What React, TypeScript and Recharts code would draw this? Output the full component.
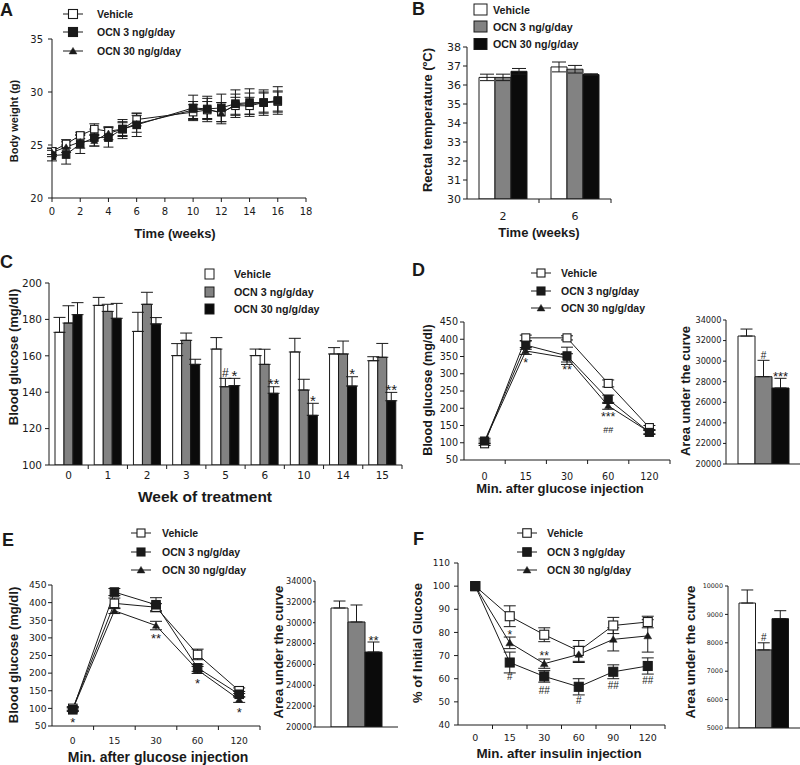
import React from 'react';
import { LineChart, Line, BarChart, Bar, XAxis, YAxis, ErrorBar, LabelList } from 'recharts';

const INK = '#1a1a1a';
const TICK_FONT = '"DejaVu Sans", Verdana, sans-serif';
const BOLD_FONT = '"Liberation Sans", Arial, Helvetica, sans-serif';

const groupNames = ['Vehicle', 'OCN 3 ng/g/day', 'OCN 30 ng/g/day'];
const barFills = ['#ffffff', '#828282', '#0b0b0b'];

// A: body weight
const bwWeeks = [0, 1, 2, 3, 4, 5, 6, 10, 11, 12, 13, 14, 15, 16];
const bwVehicle = [24.4, 25.1, 25.9, 26.5, 26.3, 26.5, 27.4, 28.1, 28.3, 28.1, 28.7, 28.7, 29.0, 29.1];
const bwVehicleErr = [0.3, 0.4, 0.3, 0.5, 0.4, 0.6, 0.6, 0.7, 0.8, 0.9, 0.8, 0.8, 0.9, 0.9];
const bwOcn3 = [24.0, 24.1, 25.1, 25.7, 25.7, 26.5, 26.9, 28.5, 28.4, 28.5, 28.9, 29.0, 29.0, 29.2];
const bwOcn3Err = [0.5, 0.9, 0.9, 0.8, 0.9, 0.9, 1.1, 1.2, 1.2, 1.3, 1.3, 1.3, 1.2, 1.3];
const bwOcn30 = [24.3, 24.8, 25.3, 25.4, 26.1, 26.5, 27.0, 28.3, 28.4, 28.0, 28.8, 28.9, 29.0, 29.1];
const bwOcn30Err = [0.4, 0.5, 0.6, 0.5, 0.6, 0.7, 0.8, 0.8, 1.0, 1.0, 1.0, 1.0, 1.0, 1.0];

// B: rectal temperature
const tempWeeks = ['2', '6'];
const tempVehicle = [36.4, 36.95];
const tempVehicleErr = [0.17, 0.26];
const tempOcn3 = [36.4, 36.83];
const tempOcn3Err = [0.17, 0.2];
const tempOcn30 = [36.72, 36.55];
const tempOcn30Err = [0.15, 0.04];

// C: fasting blood glucose by week
const bgWeeks = ['0', '1', '2', '3', '5', '6', '10', '14', '15'];
const bgVehicle = [172.9, 187.7, 173.4, 160.1, 163.7, 160.1, 162.1, 161.0, 157.3];
const bgVehicleErr = [8.2, 4.4, 10.5, 6.6, 6.3, 3.6, 7.5, 3.5, 2.2];
const bgOcn3 = [178.0, 184.4, 188.3, 168.5, 143.0, 155.3, 141.2, 161.0, 159.2];
const bgOcn3Err = [9.5, 3.9, 6.6, 4.0, 4.6, 8.3, 5.9, 7.1, 7.6];
const bgOcn30 = [182.6, 180.6, 177.5, 155.3, 143.6, 139.4, 127.3, 143.4, 135.3];
const bgOcn30Err = [6.6, 8.2, 3.5, 2.8, 4.0, 3.6, 6.6, 5.1, 4.6];
const bgNote3 = ['', '', '', '', '#', '', '', '', ''];
const bgNote30 = ['', '', '', '', '*', '**', '*', '*', '**'];

// D: glucose tolerance test
const gttMinutes = ['0', '15', '30', '60', '120'];
const gttVehicle = [97, 404, 404, 272, 144];
const gttVehicleErr = [5, 8, 6, 10, 6];
const gttOcn3 = [105, 383, 352, 226, 130];
const gttOcn3Err = [8, 12, 25, 12, 6];
const gttOcn30 = [103, 366, 346, 207, 131];
const gttOcn30Err = [5, 10, 12, 10, 5];
const gttNotes = ['', '*', '**', '***\n##', ''];
const gttAuc = [32440, 28490, 27390];
const gttAucErr = [680, 1590, 940];
const gttAucNotes = ['', '#', '***'];

// E: glucose tolerance test, second cohort
const gtt2Minutes = ['0', '15', '30', '60', '120'];
const gtt2Vehicle = [100, 398, 387, 253, 150];
const gtt2VehicleErr = [5, 15, 10, 15, 8];
const gtt2Ocn3 = [96, 430, 394, 215, 140];
const gtt2Ocn3Err = [5, 10, 20, 10, 8];
const gtt2Ocn30 = [98, 377, 335, 209, 125];
const gtt2Ocn30Err = [5, 8, 12, 10, 8];
const gtt2Stars = ['*', '', '**', '*', '*'];
const gtt2Auc = [31410, 30070, 27190];
const gtt2AucErr = [670, 1630, 960];
const gtt2AucNotes = ['', '', '**'];

// F: insulin tolerance test
const ittMinutes = ['0', '15', '30', '60', '90', '120'];
const ittVehicle = [100, 87, 79, 72, 83, 84.5];
const ittVehicleErr = [0, 4.5, 3, 4.5, 3.5, 2.5];
const ittOcn3 = [100, 67, 61, 56.5, 63, 65.5];
const ittOcn3Err = [0, 4.5, 2.5, 3.5, 3, 3.5];
const ittOcn30 = [100, 75.5, 66.5, 70.5, 77, 78.5];
const ittOcn30Err = [0, 2.5, 2, 3.5, 5, 7];
const ittStars = ['', '*', '**', '', '', ''];
const ittHashes = ['', '#', '##', '#', '##', '##'];
const ittAuc = [9400, 7750, 8850];
const ittAucErr = [460, 250, 280];
const ittAucNotes = ['', '#', ''];

type Row = Record<string, any>;

function seriesRows(
  xs: (string | number)[],
  v: number[], ve: any[], o3: number[], o3e: any[], o30: number[], o30e: any[],
  extra: Record<string, string[]> = {},
): Row[] {
  return xs.map((x, i) => {
    const r: Row = { x, v: v[i], ve: ve[i], o3: o3[i], o3e: o3e[i], o30: o30[i], o30e: o30e[i] };
    Object.keys(extra).forEach((k) => { r[k] = extra[k][i]; });
    return r;
  });
}

const upOnly = (e: number[]) => e.map((d) => [0, d]);

function aucRows(vals: number[], errs: number[], notes: string[]): Row[] {
  return [{
    x: 'AUC',
    v: vals[0], ve: [0, errs[0]], vn: notes[0],
    o3: vals[1], o3e: [0, errs[1]], o3n: notes[1],
    o30: vals[2], o30e: [0, errs[2]], o30n: notes[2],
  }];
}

type Box = { x0: number; y0: number; x1: number; y1: number };
const MT = 10;
const MR = 14;

function frameOf(b: Box, yw: number, xh: number) {
  return { left: b.x0 - yw, top: b.y0 - MT, width: b.x1 - b.x0 + yw + MR, height: b.y1 - b.y0 + MT + xh };
}

type Shape = 'open' | 'filled' | 'tri';

function shapeAt(shape: Shape, cx: number, cy: number, size: number, key?: any) {
  if (shape === 'tri') {
    const w = size * 0.6;
    const pts = `${cx},${cy - size * 0.55} ${cx - w},${cy + size * 0.45} ${cx + w},${cy + size * 0.45}`;
    return <polygon key={key} points={pts} fill={INK} stroke={INK} strokeWidth={0.5} />;
  }
  return (
    <rect key={key} x={cx - size / 2} y={cy - size / 2} width={size} height={size}
      fill={shape === 'open' ? '#fff' : INK} stroke={INK} strokeWidth={1.1} />
  );
}

const makeDot = (shape: Shape, size: number) => (p: any) => {
  if (p.cx == null || p.cy == null) return <g key={p.index} />;
  return shapeAt(shape, p.cx, p.cy, size, p.index);
};

// significance marks; each line's visual centre sits at cy (+ 15 px per extra line).
// asterisks sit high in the em box, hashes lower.
function noteText(x: number, cy: number, value: string, starSize: number, hashSize: number, key?: any) {
  const lines = value.split('\n');
  return (
    <text key={key} x={x} textAnchor="middle" fontFamily={BOLD_FONT} fill={INK}>
      {lines.map((ln, i) => {
        const star = ln.includes('*');
        const size = star ? starSize : hashSize;
        const base = cy + i * 15 + (star ? 0.57 : 0.36) * size;
        return <tspan key={i} x={x} y={base} fontSize={size}>{ln}</tspan>;
      })}
    </text>
  );
}

const lineNote = (offset: number, starSize: number, hashSize: number) => (p: any) => {
  if (!p.value) return null;
  const x = p.x ?? p.viewBox?.x;
  const y = p.y ?? p.viewBox?.y;
  return noteText(x, y + offset, String(p.value), starSize, hashSize, p.index);
};

const barNote = (rows: Row[], key: string, base: number, gap: number, starSize: number, hashSize: number) => (p: any) => {
  if (!p.value) return null;
  const vb = p.viewBox ?? {};
  const x = p.x ?? vb.x;
  const y = p.y ?? vb.y;
  const width = p.width ?? vb.width;
  const height = p.height ?? vb.height;
  const row = rows[p.index ?? 0];
  const err = row[key + 'e'];
  const up = Array.isArray(err) ? err[1] : err;
  const pxPer = height / (row[key] - base);
  const top = y - up * pxPer;
  return noteText(x + width / 2, top - gap, String(p.value), starSize, hashSize, p.index);
};

const catTick = (bw: number, base: number, size: number, labels = true) => (p: any) => {
  const { x, y, payload, index } = p;
  return (
    <g key={index}>
      <line x1={x + bw / 2} x2={x + bw / 2} y1={y} y2={y + 4} stroke={INK} strokeWidth={1} />
      {labels && (
        <text x={x} y={y + base} textAnchor="middle" fontSize={size} fontFamily={TICK_FONT} fill={INK}>
          {payload.value}
        </text>
      )}
    </g>
  );
};

const lineSeries: { key: string; shape: Shape }[] = [
  { key: 'v', shape: 'open' },
  { key: 'o30', shape: 'tri' },
  { key: 'o3', shape: 'filled' },
];

type LineNote = { series: string; key: string; offset: number };

type LineCfg = {
  box: Box; yw: number; xh: number; rows: Row[];
  numeric?: { domain: [number, number]; ticks: number[] };
  yDomain: [number, number]; yTicks: number[];
  yTickFont: number; yTickMargin: number;
  xTickFont: number; xLabel: number;
  square: number; tri: number; errWidth: number;
  notes: LineNote[]; starSize: number; hashSize: number;
};

function LinePanel({ cfg }: { cfg: LineCfg }) {
  const f = frameOf(cfg.box, cfg.yw, cfg.xh);
  const bw = (cfg.box.x1 - cfg.box.x0) / cfg.rows.length;
  return (
    <div style={{ position: 'absolute', left: f.left, top: f.top }}>
      <LineChart width={f.width} height={f.height} data={cfg.rows} margin={{ top: MT, right: MR, bottom: 0, left: 0 }}>
        {cfg.numeric ? (
          <XAxis dataKey="x" type="number" domain={cfg.numeric.domain} ticks={cfg.numeric.ticks} height={cfg.xh}
            stroke={INK} tickSize={4} tickMargin={cfg.xLabel} interval={0} allowDataOverflow
            tick={{ fontSize: cfg.xTickFont, fontFamily: TICK_FONT, fill: INK }} />
        ) : (
          <XAxis dataKey="x" height={cfg.xh} stroke={INK} tickLine={false} tickSize={0} tickMargin={0} interval={0}
            padding={{ left: bw / 2, right: bw / 2 }} tick={catTick(bw, cfg.xLabel, cfg.xTickFont)} />
        )}
        <YAxis width={cfg.yw} domain={cfg.yDomain} ticks={cfg.yTicks} stroke={INK} tickSize={4}
          tickMargin={cfg.yTickMargin} interval={0} allowDataOverflow
          tick={{ fontSize: cfg.yTickFont, fontFamily: TICK_FONT, fill: INK }} />
        {lineSeries.map((s) => (
          <Line key={s.key} dataKey={s.key} stroke={INK} strokeWidth={1} isAnimationActive={false}
            activeDot={false} dot={makeDot(s.shape, s.shape === 'tri' ? cfg.tri : cfg.square)}>
            <ErrorBar dataKey={s.key + 'e'} width={cfg.errWidth} stroke={INK} strokeWidth={1} direction="y" />
            {cfg.notes.filter((n) => n.series === s.key).map((n) => (
              <LabelList key={n.key} dataKey={n.key} content={lineNote(n.offset, cfg.starSize, cfg.hashSize)} />
            ))}
          </Line>
        ))}
      </LineChart>
    </div>
  );
}

type BarCfg = {
  box: Box; yw: number; xh: number; rows: Row[];
  yDomain: [number, number]; yTicks: number[];
  yTickFont: number; yTickSize: number; yTickMargin: number;
  xTickFont: number; xLabel: number; showX: boolean;
  barSize: number; errWidth: number;
  notes: Record<string, string>; noteGap: number; starSize: number; hashSize: number;
};

function BarPanel({ cfg }: { cfg: BarCfg }) {
  const f = frameOf(cfg.box, cfg.yw, cfg.xh);
  const bw = (cfg.box.x1 - cfg.box.x0) / cfg.rows.length;
  const keys = ['v', 'o3', 'o30'];
  return (
    <div style={{ position: 'absolute', left: f.left, top: f.top }}>
      <BarChart width={f.width} height={f.height} data={cfg.rows} margin={{ top: MT, right: MR, bottom: 0, left: 0 }}
        barSize={cfg.barSize} barGap={0}>
        <XAxis dataKey="x" height={cfg.xh} stroke={INK} tickLine={false} tickSize={0} tickMargin={0} interval={0}
          tick={cfg.showX ? catTick(bw, cfg.xLabel, cfg.xTickFont) : false} />
        <YAxis width={cfg.yw} domain={cfg.yDomain} ticks={cfg.yTicks} stroke={INK} tickSize={cfg.yTickSize}
          tickMargin={cfg.yTickMargin} interval={0} allowDataOverflow
          tick={{ fontSize: cfg.yTickFont, fontFamily: TICK_FONT, fill: INK }} />
        {keys.map((k, i) => (
          <Bar key={k} dataKey={k} fill={barFills[i]} stroke={INK} strokeWidth={1} barSize={cfg.barSize}
            isAnimationActive={false}>
            <ErrorBar dataKey={k + 'e'} width={cfg.errWidth} stroke={INK} strokeWidth={1} direction="y" />
            {cfg.notes[k] && (
              <LabelList dataKey={cfg.notes[k]}
                content={barNote(cfg.rows, k, cfg.yDomain[0], cfg.noteGap, cfg.starSize, cfg.hashSize)} />
            )}
          </Bar>
        ))}
      </BarChart>
    </div>
  );
}

const range = (a: number, b: number, step: number) => {
  const out: number[] = [];
  for (let v = a; v <= b + 1e-9; v += step) out.push(v);
  return out;
};

const panelA: LineCfg = {
  box: { x0: 52, y0: 39, x1: 306, y1: 198 }, yw: 52, xh: 45,
  rows: seriesRows(bwWeeks, bwVehicle, bwVehicleErr, bwOcn3, bwOcn3Err, bwOcn30, bwOcn30Err),
  numeric: { domain: [0, 18], ticks: range(0, 18, 2) },
  yDomain: [20, 35], yTicks: [20, 25, 30, 35], yTickFont: 10, yTickMargin: 5,
  xTickFont: 10, xLabel: 6, square: 7.5, tri: 6, errWidth: 5, notes: [], starSize: 12, hashSize: 10,
};

const tempRows = seriesRows(tempWeeks, tempVehicle, tempVehicleErr, tempOcn3, tempOcn3Err, tempOcn30, tempOcn30Err);
const panelB: BarCfg = {
  box: { x0: 467, y0: 47, x1: 611, y1: 199 }, yw: 50, xh: 45, rows: tempRows,
  yDomain: [30, 38], yTicks: range(30, 38, 1), yTickFont: 11, yTickSize: 4, yTickMargin: 2,
  xTickFont: 11, xLabel: 21, showX: true, barSize: 16, errWidth: 7,
  notes: {}, noteGap: 5, starSize: 13, hashSize: 11,
};

const bgRows = seriesRows(bgWeeks, bgVehicle, upOnly(bgVehicleErr), bgOcn3, upOnly(bgOcn3Err), bgOcn30,
  upOnly(bgOcn30Err), { o3n: bgNote3, o30n: bgNote30 });
const panelC: BarCfg = {
  box: { x0: 49, y0: 283, x1: 402, y1: 465 }, yw: 49, xh: 40, rows: bgRows,
  yDomain: [100, 200], yTicks: range(100, 200, 20), yTickFont: 10.5, yTickSize: 4, yTickMargin: 3,
  xTickFont: 10.5, xLabel: 14, showX: true, barSize: 9, errWidth: 6,
  notes: { o3: 'o3n', o30: 'o30n' }, noteGap: 6, starSize: 15, hashSize: 12,
};

const panelD: LineCfg = {
  box: { x0: 464, y0: 322, x1: 670, y1: 460 }, yw: 50, xh: 40,
  rows: seriesRows(gttMinutes, gttVehicle, gttVehicleErr, gttOcn3, gttOcn3Err, gttOcn30, gttOcn30Err,
    { s: gttNotes }),
  yDomain: [50, 450], yTicks: range(50, 450, 50), yTickFont: 9.6, yTickMargin: 2,
  xTickFont: 9.6, xLabel: 20, square: 8, tri: 6, errWidth: 6,
  notes: [{ series: 'o30', key: 's', offset: 8.5 }],
  starSize: 12.5, hashSize: 9,
};

const dAucRows = aucRows(gttAuc, gttAucErr, gttAucNotes);
const panelDAuc: BarCfg = {
  box: { x0: 726, y0: 320, x1: 800, y1: 464 }, yw: 50, xh: 30, rows: dAucRows,
  yDomain: [20000, 34000], yTicks: range(20000, 34000, 2000), yTickFont: 8.2, yTickSize: 3, yTickMargin: 1.5,
  xTickFont: 8, xLabel: 0, showX: false, barSize: 17, errWidth: 6,
  notes: { o3: 'o3n', o30: 'o30n' }, noteGap: 5, starSize: 13, hashSize: 10,
};

const panelE: LineCfg = {
  box: { x0: 52, y0: 585, x1: 260, y1: 726 }, yw: 52, xh: 38,
  rows: seriesRows(gtt2Minutes, gtt2Vehicle, gtt2VehicleErr, gtt2Ocn3, gtt2Ocn3Err, gtt2Ocn30, gtt2Ocn30Err,
    { s: gtt2Stars }),
  yDomain: [50, 450], yTicks: range(50, 450, 50), yTickFont: 9.2, yTickMargin: 1.5,
  xTickFont: 9.2, xLabel: 17.5, square: 8.5, tri: 6, errWidth: 6,
  notes: [{ series: 'o30', key: 's', offset: 10.5 }], starSize: 13, hashSize: 10,
};

const eAucRows = aucRows(gtt2Auc, gtt2AucErr, gtt2AucNotes);
const panelEAuc: BarCfg = {
  box: { x0: 315, y0: 581, x1: 398, y1: 727 }, yw: 45, xh: 30, rows: eAucRows,
  yDomain: [20000, 34000], yTicks: range(20000, 34000, 2000), yTickFont: 8.2, yTickSize: 2, yTickMargin: 1,
  xTickFont: 8, xLabel: 0, showX: false, barSize: 17, errWidth: 6,
  notes: { o30: 'o30n' }, noteGap: 4.5, starSize: 13, hashSize: 10,
};

const panelF: LineCfg = {
  box: { x0: 458, y0: 563, x1: 665, y1: 725 }, yw: 50, xh: 38,
  rows: seriesRows(ittMinutes, ittVehicle, ittVehicleErr, ittOcn3, ittOcn3Err, ittOcn30, ittOcn30Err,
    { s: ittStars, h: ittHashes }),
  yDomain: [40, 110], yTicks: range(40, 110, 10), yTickFont: 9, yTickMargin: 4,
  xTickFont: 9.5, xLabel: 15.5, square: 9, tri: 6.5, errWidth: 6,
  notes: [{ series: 'o30', key: 's', offset: -10.5 }, { series: 'o3', key: 'h', offset: 14 }],
  starSize: 12, hashSize: 10,
};

const fAucRows = aucRows(ittAuc, ittAucErr, ittAucNotes);
const panelFAuc: BarCfg = {
  box: { x0: 728, y0: 586, x1: 800, y1: 728 }, yw: 48, xh: 30, rows: fAucRows,
  yDomain: [5000, 10000], yTicks: range(5000, 10000, 1000), yTickFont: 6.4, yTickSize: 3, yTickMargin: 2,
  xTickFont: 8, xLabel: 0, showX: false, barSize: 16.5, errWidth: 6,
  notes: { o3: 'o3n' }, noteGap: 5, starSize: 12, hashSize: 10,
};

// panel letters, axis titles and legends
const letters = [
  { t: 'A', x: 0, y: 16 }, { t: 'B', x: 412, y: 15 }, { t: 'C', x: 0, y: 268 },
  { t: 'D', x: 412, y: 276 }, { t: 'E', x: 2, y: 546 }, { t: 'F', x: 413, y: 545 },
];

const yTitles = [
  { t: 'Body weight (g)', x: 14, y: 121, s: 11 },
  { t: 'Rectal temperature (ºC)', x: 427, y: 120, s: 13 },
  { t: 'Blood glucose (mg/dl)', x: 13, y: 357, s: 13 },
  { t: 'Blood glucose (mg/dl)', x: 428, y: 390, s: 12.5 },
  { t: 'Area under the curve', x: 685, y: 391, s: 13 },
  { t: 'Blood glucose (mg/dl)', x: 13, y: 655, s: 13 },
  { t: 'Area under the curve', x: 278, y: 652, s: 13.3 },
  { t: '% of Initial Glucose', x: 417, y: 643, s: 13 },
  { t: 'Area under the curve', x: 690, y: 652, s: 13.3 },
];

const xTitles = [
  { t: 'Time (weeks)', x: 175, y: 233, s: 13 },
  { t: 'Time (weeks)', x: 539, y: 232, s: 13 },
  { t: 'Week of treatment', x: 205, y: 496, s: 15.5 },
  { t: 'Min. after glucose injection', x: 560, y: 488, s: 13 },
  { t: 'Min. after glucose injection', x: 158, y: 757, s: 14 },
  { t: 'Min. after insulin injection', x: 559, y: 753, s: 13.4 },
];

const lineLegends = [
  { mx: 73, tx: 97, ys: [14, 32, 51], size: 9 },
  { mx: 541, tx: 561, ys: [273, 291, 308], size: 8 },
  { mx: 141, tx: 162, ys: [533, 552, 570], size: 8 },
  { mx: 527, tx: 547, ys: [533, 552, 570], size: 8.5 },
];
const legendShapes: Shape[] = ['open', 'filled', 'tri'];

const boxLegends = [
  { bx: 474, bw: 13, bh: 11, tx: 493, ys: [9.5, 26.5, 44] },
  { bx: 205, bw: 9, bh: 10, tx: 234, ys: [274, 292, 309] },
];

function Overlay() {
  const bold = { fontFamily: BOLD_FONT, fontWeight: 700 as const, fill: INK };
  return (
    <svg width={800} height={765} style={{ position: 'absolute', left: 0, top: 0, pointerEvents: 'none' }}>
      {letters.map((l) => (
        <text key={l.t} x={l.x} y={l.y} fontSize={18} {...bold}>{l.t}</text>
      ))}
      {yTitles.map((t, i) => (
        <text key={'y' + i} x={t.x} y={t.y} transform={`rotate(-90 ${t.x} ${t.y})`} textAnchor="middle"
          dominantBaseline="central" fontSize={t.s} {...bold}>{t.t}</text>
      ))}
      {xTitles.map((t, i) => (
        <text key={'x' + i} x={t.x} y={t.y} textAnchor="middle" dominantBaseline="central" fontSize={t.s} {...bold}>
          {t.t}
        </text>
      ))}
      {lineLegends.map((lg, j) => (
        <g key={'ll' + j}>
          {groupNames.map((name, i) => (
            <g key={name}>
              <line x1={lg.mx - 10} x2={lg.mx + 10} y1={lg.ys[i]} y2={lg.ys[i]} stroke={INK} strokeWidth={1} />
              {shapeAt(legendShapes[i], lg.mx, lg.ys[i], legendShapes[i] === 'tri' ? 6.5 : lg.size)}
              <text x={lg.tx} y={lg.ys[i]} dominantBaseline="central" fontSize={10.5} {...bold}>{name}</text>
            </g>
          ))}
        </g>
      ))}
      {boxLegends.map((lg, j) => (
        <g key={'bl' + j}>
          {groupNames.map((name, i) => (
            <g key={name}>
              <rect x={lg.bx} y={lg.ys[i] - lg.bh / 2} width={lg.bw} height={lg.bh} fill={barFills[i]}
                stroke={INK} strokeWidth={1} />
              <text x={lg.tx} y={lg.ys[i]} dominantBaseline="central" fontSize={10.7} {...bold}>{name}</text>
            </g>
          ))}
        </g>
      ))}
    </svg>
  );
}

export default function App() {
  return (
    <div style={{ position: 'fixed', left: 0, top: 0, width: 800, height: 765, background: '#fff', overflow: 'hidden' }}>
      <LinePanel cfg={panelA} />
      <BarPanel cfg={panelB} />
      <BarPanel cfg={panelC} />
      <LinePanel cfg={panelD} />
      <BarPanel cfg={panelDAuc} />
      <LinePanel cfg={panelE} />
      <BarPanel cfg={panelEAuc} />
      <LinePanel cfg={panelF} />
      <BarPanel cfg={panelFAuc} />
      <Overlay />
    </div>
  );
}
